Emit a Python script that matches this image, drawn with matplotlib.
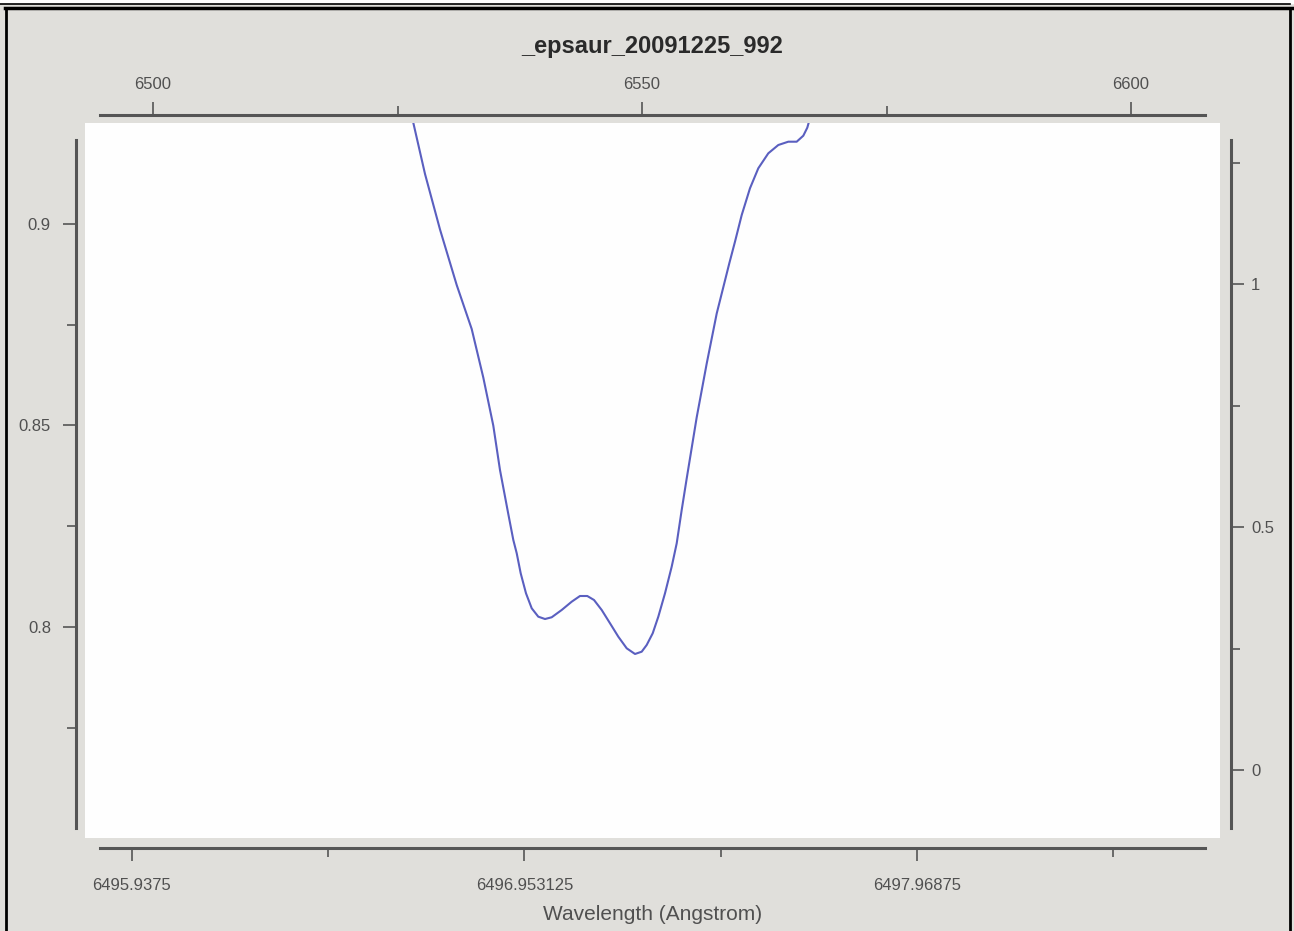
import matplotlib
matplotlib.use("Agg")
import matplotlib.pyplot as plt
from matplotlib.lines import Line2D

# spectrum (bottom / left axes)
wavelength = [6496.6620, 6496.6957, 6496.7345, 6496.7777, 6496.8165, 6496.8465,
              6496.8724, 6496.8897, 6496.9112, 6496.9242, 6496.9330, 6496.9433,
              6496.9570, 6496.9718, 6496.9888, 6497.0062, 6497.0235, 6497.0494,
              6497.0753, 6497.0967, 6497.1156, 6497.1330, 6497.1529, 6497.1744,
              6497.1959, 6497.2176, 6497.2391, 6497.2564, 6497.2693, 6497.2849,
              6497.2994, 6497.3167, 6497.3340, 6497.3470, 6497.3599, 6497.3728,
              6497.3987, 6497.4246, 6497.4505, 6497.4831, 6497.4978, 6497.5152,
              6497.5366, 6497.5581, 6497.5840, 6497.6099, 6497.6357, 6497.6575,
              6497.6746, 6497.6849, 6497.6919]
flux = [0.92655, 0.91241, 0.89864, 0.88486, 0.87395, 0.86191,
        0.84997, 0.83896, 0.82804, 0.82159, 0.81829, 0.81332,
        0.80836, 0.80464, 0.80256, 0.80198, 0.80241, 0.80422,
        0.80628, 0.80769, 0.80769, 0.80670, 0.80422, 0.80092,
        0.79759, 0.79471, 0.79330, 0.79387, 0.79553, 0.79844,
        0.80256, 0.80836, 0.81496, 0.82077, 0.82903, 0.83682,
        0.85201, 0.86536, 0.87779, 0.89025, 0.89561, 0.90223,
        0.90886, 0.91382, 0.91754, 0.91960, 0.92042, 0.92042,
        0.92191, 0.92390, 0.92630]

title = "_epsaur_20091225_992"
xlabel = "Wavelength (Angstrom)"

bottom_ticks = [6495.9375, 6496.953125, 6497.96875]
bottom_labels = ["6495.9375", "6496.953125", "6497.96875"]
bottom_minor = [6496.4453125, 6497.4609375, 6498.4765625]
left_ticks = [0.8, 0.85, 0.9]
left_labels = ["0.8", "0.85", "0.9"]
left_minor = [0.775, 0.825, 0.875]
top_ticks = [6500, 6550, 6600]
top_minor = [6525, 6575]
right_ticks = [0, 0.5, 1]
right_labels = ["0", "0.5", "1"]
right_minor = [0.25, 0.75, 1.25]

bg = "#e0dfdb"
axis_col = "#555555"
text_col = "#505050"
plt.rcParams['font.family'] = ['Liberation Sans', 'DejaVu Sans']

W, H = 1294, 931
fig = plt.figure(figsize=(W / 100, H / 100), dpi=100)
fig.patch.set_facecolor(bg)

# white data area in pixels
x0, x1, y0, y1 = 85, 1220, 123, 838
ax = fig.add_axes([x0 / W, 1 - y1 / H, (x1 - x0) / W, (y1 - y0) / H])
ax.set_facecolor("#fefefe")
ax.plot(wavelength, flux, color="#5a5fc0", lw=1.5)
ax.set_xlim(6495.8159, 6498.7528)
ax.set_ylim(0.74764, 0.92506)

for s in ["top", "right"]:
    ax.spines[s].set_visible(False)
ax.spines["left"].set_position(("outward", 6.5))
ax.spines["left"].set_bounds(0.7501, 0.9208)
ax.spines["bottom"].set_position(("outward", 7.2))
ax.spines["bottom"].set_bounds(6495.8547, 6498.714)

ax.set_xticks(bottom_ticks)
ax.set_xticklabels(bottom_labels)
ax.set_xticks(bottom_minor, minor=True)
ax.set_yticks(left_ticks)
ax.set_yticklabels(left_labels)
ax.set_yticks(left_minor, minor=True)
ax.set_xlabel(xlabel, fontsize=15, color=text_col, labelpad=9)

# top axis
ax_top = ax.twiny()
ax_top.set_xlim(6493.047, 6609.10)
ax_top.set_xticks(top_ticks)
ax_top.set_xticklabels([str(t) for t in top_ticks])
ax_top.set_xticks(top_minor, minor=True)
for s in ["left", "right", "bottom"]:
    ax_top.spines[s].set_visible(False)
ax_top.spines["top"].set_position(("outward", 5.8))
ax_top.spines["top"].set_bounds(6494.58, 6607.57)

# right axis
ax_r = ax.twinx()
ax_r.set_ylim(-0.1399, 1.3313)
ax_r.set_yticks(right_ticks)
ax_r.set_yticklabels(right_labels)
ax_r.set_yticks(right_minor, minor=True)
for s in ["left", "top", "bottom"]:
    ax_r.spines[s].set_visible(False)
ax_r.spines["right"].set_position(("outward", 7.9))
ax_r.spines["right"].set_bounds(-0.1193, 1.2963)

for a in (ax, ax_top, ax_r):
    for s in a.spines.values():
        s.set_color(axis_col)
        s.set_linewidth(2.2)
    a.tick_params(which="major", length=9.5, width=1.2, color=axis_col,
                  labelsize=12, labelcolor=text_col)
    a.tick_params(which="minor", length=6.5, width=1.2, color=axis_col)
ax.tick_params(axis="x", which="major", pad=12)
ax.tick_params(axis="y", which="major", pad=8.5)
ax_top.tick_params(axis="x", which="major", pad=7)
ax_r.tick_params(axis="y", which="major", pad=5)

fig.text(652 / W, 1 - 46 / H, title, ha="center", va="center",
         fontsize=17, fontweight="bold", color="#2a2a2a")

# window frame lines
def frame_line(xs, ys, lw):
    fig.add_artist(Line2D([x / W for x in xs], [1 - y / H for y in ys],
                          color="black", lw=lw, transform=fig.transFigure))

fig.add_artist(plt.Rectangle((0, 1 - 3 / H), 1, 3 / H, color="white",
                             transform=fig.transFigure))
frame_line([0, 1290], [3.5, 3.5], 1.2)
frame_line([5, 1294], [8, 8], 2.5)
frame_line([6, 6], [8, 931], 2.0)
frame_line([1289.5, 1289.5], [8, 931], 2.0)

fig.savefig("out.png", dpi=100, facecolor=fig.get_facecolor())
